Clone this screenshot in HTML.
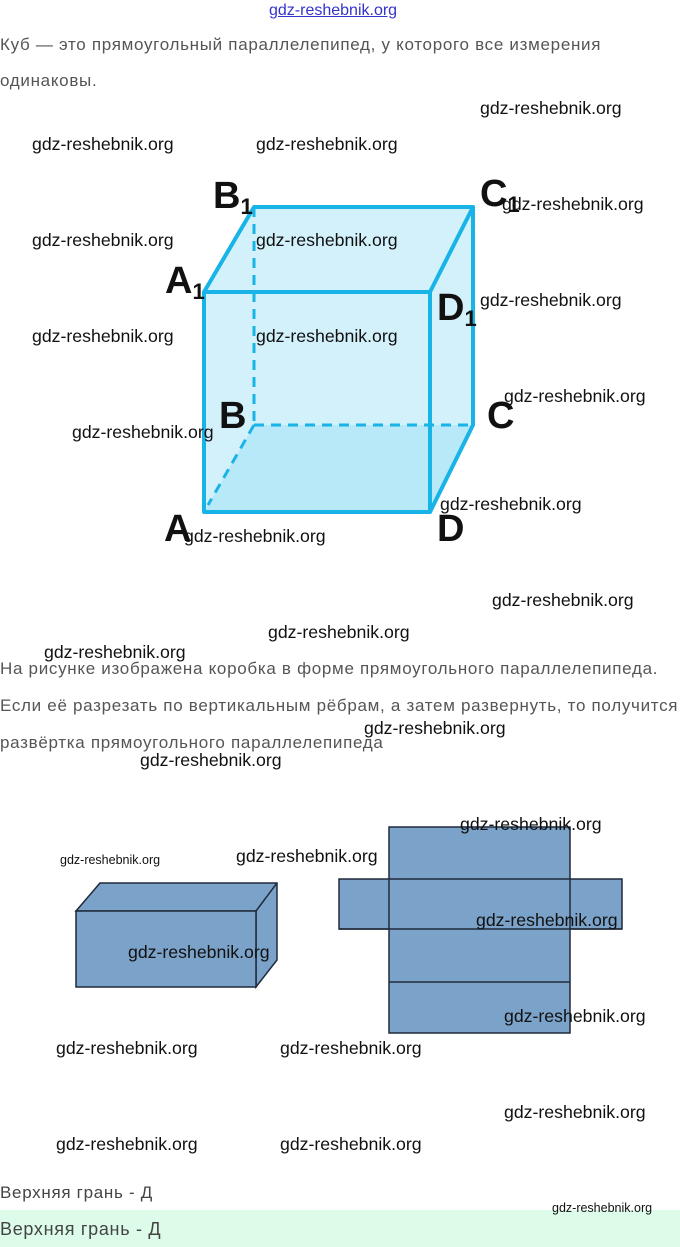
<!DOCTYPE html>
<html><head><meta charset="utf-8"><style>
body{margin:0;width:680px;height:1247px;position:relative;background:#fff;overflow:hidden;font-family:"Liberation Sans",sans-serif}
.w{position:absolute;font-size:17.7px;color:#111;white-space:nowrap;line-height:20px}
.s{font-size:12.5px}
.p{position:absolute;left:0;font-size:17px;letter-spacing:0.7px;color:#555;white-space:nowrap;line-height:20px}
.l{position:absolute;font-family:"Liberation Sans Narrow","Liberation Sans",sans-serif;font-weight:bold;font-size:38px;color:#111;line-height:36px}
.l sub{font-size:22px;vertical-align:-6px}
</style></head><body>
<div style="position:absolute;left:269px;top:2px;font-size:16px;color:#3333cc;text-decoration:underline">gdz-reshebnik.org</div>
<div class="p" style="top:35px">Куб — это прямоугольный параллелепипед, у которого все измерения</div>
<div class="p" style="top:71px">одинаковы.</div>
<svg style="position:absolute;left:0;top:0" width="680" height="1247">
<polygon points="204,292 254,207 473,207 473,425 430,512 204,512" fill="#d3f1fb"/>
<polygon points="204,512 254,425 473,425 430,512" fill="#b8e9f9"/>
<g stroke="#18b4e8" stroke-width="4" fill="none" stroke-linejoin="round">
<rect x="204" y="292" width="226" height="220"/>
<polyline points="204,292 254,207 473,207 430,292"/>
<polyline points="473,207 473,425 430,512"/>
</g>
<g stroke="#18b4e8" stroke-width="3" stroke-dasharray="10,7" fill="none">
<line x1="254" y1="207" x2="254" y2="425"/><line x1="254" y1="425" x2="473" y2="425"/><line x1="254" y1="425" x2="208" y2="505"/>
</g>
<g fill="#7ba2c8" stroke="#1f2a3a" stroke-width="1.5">
<polygon points="76,911 100,883 277,883 277,960 256,987 256,911"/>
<rect x="76" y="911" width="180" height="76"/>
<line x1="256" y1="911" x2="277" y2="883"/>
<rect x="339" y="879" width="283" height="50"/>
<rect x="389" y="827" width="181" height="206"/>
<line x1="339" y1="929" x2="622" y2="929"/>
<line x1="389" y1="982" x2="570" y2="982"/>
<line x1="389" y1="879" x2="570" y2="879"/>
</g>
</svg>
<div class="l" style="left:213px;top:178px">B<sub>1</sub></div>
<div class="l" style="left:165px;top:263px">A<sub>1</sub></div>
<div class="l" style="left:480px;top:176px">C<sub>1</sub></div>
<div class="l" style="left:437px;top:290px">D<sub>1</sub></div>
<div class="l" style="left:219px;top:398px">B</div>
<div class="l" style="left:487px;top:398px">C</div>
<div class="l" style="left:164px;top:511px">A</div>
<div class="l" style="left:437px;top:511px">D</div>
<div class="p" style="top:659px">На рисунке изображена коробка в форме прямоугольного параллелепипеда.</div>
<div class="p" style="top:696px">Если её разрезать по вертикальным рёбрам, а затем развернуть, то получится</div>
<div class="p" style="top:733px">развёртка прямоугольного параллелепипеда</div>
<div class="p" style="top:1183px;color:#444">Верхняя грань - Д</div>
<div style="position:absolute;left:0;top:1210px;width:680px;height:37px;background:#dcfce9"></div>
<div class="p" style="top:1219px;color:#444;font-size:18px">Верхняя грань - Д</div>
<div class="w" style="left:480px;top:98px">gdz-reshebnik.org</div>
<div class="w" style="left:32px;top:134px">gdz-reshebnik.org</div>
<div class="w" style="left:256px;top:134px">gdz-reshebnik.org</div>
<div class="w" style="left:502px;top:194px">gdz-reshebnik.org</div>
<div class="w" style="left:32px;top:230px">gdz-reshebnik.org</div>
<div class="w" style="left:256px;top:230px">gdz-reshebnik.org</div>
<div class="w" style="left:480px;top:290px">gdz-reshebnik.org</div>
<div class="w" style="left:32px;top:326px">gdz-reshebnik.org</div>
<div class="w" style="left:256px;top:326px">gdz-reshebnik.org</div>
<div class="w" style="left:504px;top:386px">gdz-reshebnik.org</div>
<div class="w" style="left:72px;top:422px">gdz-reshebnik.org</div>
<div class="w" style="left:440px;top:494px">gdz-reshebnik.org</div>
<div class="w" style="left:184px;top:526px">gdz-reshebnik.org</div>
<div class="w" style="left:492px;top:590px">gdz-reshebnik.org</div>
<div class="w" style="left:268px;top:622px">gdz-reshebnik.org</div>
<div class="w" style="left:44px;top:642px">gdz-reshebnik.org</div>
<div class="w" style="left:364px;top:718px">gdz-reshebnik.org</div>
<div class="w" style="left:140px;top:750px">gdz-reshebnik.org</div>
<div class="w" style="left:460px;top:814px">gdz-reshebnik.org</div>
<div class="w s" style="left:60px;top:850px">gdz-reshebnik.org</div>
<div class="w" style="left:236px;top:846px">gdz-reshebnik.org</div>
<div class="w" style="left:476px;top:910px">gdz-reshebnik.org</div>
<div class="w" style="left:128px;top:942px">gdz-reshebnik.org</div>
<div class="w" style="left:504px;top:1006px">gdz-reshebnik.org</div>
<div class="w" style="left:56px;top:1038px">gdz-reshebnik.org</div>
<div class="w" style="left:280px;top:1038px">gdz-reshebnik.org</div>
<div class="w" style="left:504px;top:1102px">gdz-reshebnik.org</div>
<div class="w" style="left:56px;top:1134px">gdz-reshebnik.org</div>
<div class="w" style="left:280px;top:1134px">gdz-reshebnik.org</div>
<div class="w s" style="left:552px;top:1198px">gdz-reshebnik.org</div>
</body></html>
